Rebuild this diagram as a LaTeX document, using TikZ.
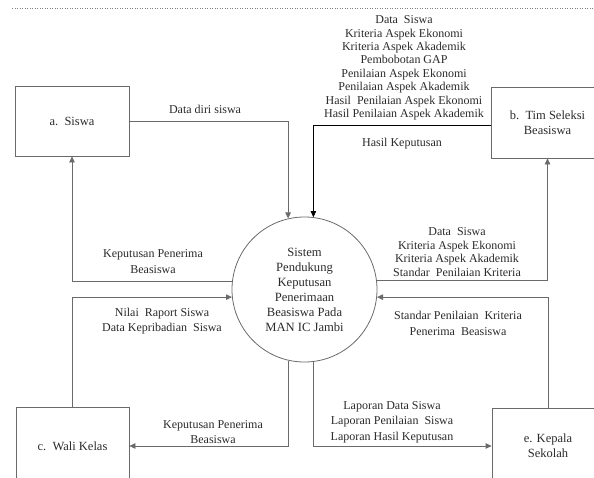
\documentclass[tikz,border=0pt]{standalone}
\usepackage{fontspec}
\setmainfont{Liberation Serif}
\usetikzlibrary{arrows.meta,calc}
\definecolor{txt}{HTML}{2A2A2A}
\definecolor{ln}{HTML}{6A6A6A}
\tikzset{
  ent/.style={draw=ln, line width=0.8pt, inner sep=2pt, align=center, text=txt,
              font=\fontsize{12.5}{15}\selectfont},
  proc/.style={draw=ln, line width=0.8pt, circle, minimum size=145pt, inner sep=0pt,
              align=center, text=txt, font=\fontsize{12.6}{15}\selectfont},
  lbl/.style={align=center, text=txt, inner sep=0pt},
  lblA/.style={lbl, font=\fontsize{12}{13.4}\selectfont},
  lblB/.style={lbl, font=\fontsize{12}{15.3}\selectfont},
  flow/.style={draw=ln, line width=0.8pt, -{Triangle[length=6pt,width=5.5pt]}},
}
\begin{document}
\begin{tikzpicture}[x=1pt,y=-1pt]
\useasboundingbox (0,0) rectangle (594,477);
\clip (0,0) rectangle (594,477);
\draw[dotted, gray, line width=0.5pt] (12,8) -- (594,8);

% entities
\node[ent, minimum width=114pt, minimum height=70pt] (a) at (72,121) {a.~~Siswa};
\node[ent, minimum width=113pt, minimum height=71pt] (b) at (547.5,122.5) {b.~~Tim Seleksi\\Beasiswa};
\node[ent, minimum width=113pt, minimum height=78pt] (c) at (72.5,446) {c.~~Wali Kelas};
\node[ent, minimum width=112pt, minimum height=76pt] (e) at (548,446) {e. Kepala\\Sekolah};

% process
\node[proc] (sys) at (304.5,289.5) {Sistem\\Pendukung\\Keputusan\\Penerimaan\\Beasiswa Pada\\MAN IC Jambi};

% flows
\draw[flow] (a.east) -| (sys.103);
\draw[flow, draw=black] (b.west) ++(0,2.5) -| (sys.83);
\draw[flow] (sys.174) -| (a.south);
\draw[flow] (c.north) |- (sys.186);
\draw[flow] (sys.7.5) -| (b.south);
\draw[flow] (e.north) |- (sys.-6);
\draw[flow] (sys.257) |- (c.east);
\draw[flow] (sys.-83) |- (e.west);

% labels
\node[lblA] (l1) at (205,109) {Data diri siswa};
\node[lblA] (l2) at (404,68) {Data~~Siswa\\Kriteria Aspek Ekonomi\\Kriteria Aspek Akademik\\Pembobotan GAP\\Penilaian Aspek Ekonomi\\Penilaian Aspek Akademik\\Hasil~~Penilaian Aspek Ekonomi\\Hasil Penilaian Aspek Akademik};
\node[lblA] (l3) at (402,144) {Hasil Keputusan};
\node[lblB] (l4) at (153,261.5) {Keputusan Penerima\\Beasiswa};
\node[lblB] (l5) at (162,321) {Nilai~~Raport Siswa\\Data Kepribadian~~Siswa};
\node[lblA] (l6) at (457,252) {Data~~Siswa\\Kriteria Aspek Ekonomi\\Kriteria Aspek Akademik\\Standar~~Penilaian Kriteria};
\node[lblB] (l7) at (458,323.5) {Standar Penilaian~~Kriteria\\Penerima~~Beasiswa};
\node[lblB] (l8) at (213,432) {Keputusan Penerima\\Beasiswa};
\node[lblB] (l9) at (392,422) {Laporan Data Siswa\\Laporan Penilaian~~Siswa\\Laporan Hasil Keputusan};
\end{tikzpicture}
\end{document}
